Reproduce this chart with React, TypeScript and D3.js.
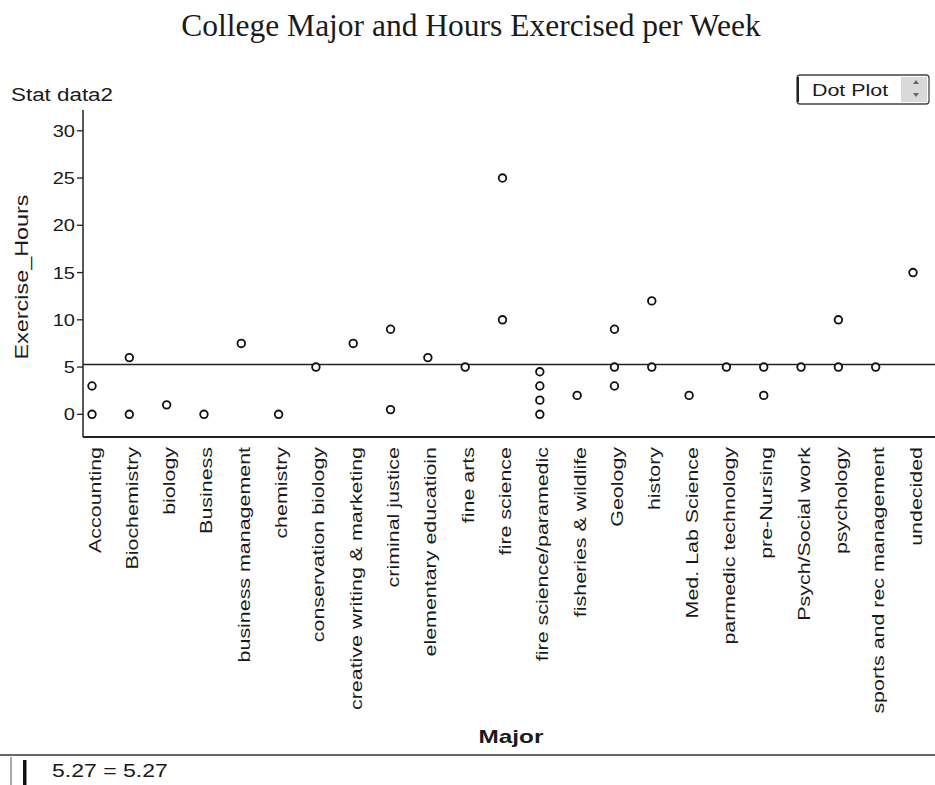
import React from "react";
import * as d3 from "d3";

const majors = [
  "Accounting",
  "Biochemistry",
  "biology",
  "Business",
  "business management",
  "chemistry",
  "conservation biology",
  "creative writing & marketing",
  "criminal justice",
  "elementary educatioin",
  "fine arts",
  "fire science",
  "fire science/paramedic",
  "fisheries & wildlife",
  "Geology",
  "history",
  "Med. Lab Science",
  "parmedic technology",
  "pre-Nursing",
  "Psych/Social work",
  "psychology",
  "sports and rec management",
  "undecided",
];

const exerciseHours: number[][] = [
  [0, 3],
  [0, 6],
  [1],
  [0],
  [7.5],
  [0],
  [5],
  [7.5],
  [0.5, 9],
  [6],
  [5],
  [10, 25],
  [0, 1.5, 3, 4.5],
  [2],
  [3, 5, 9],
  [5, 12],
  [2],
  [5],
  [2, 5],
  [5],
  [5, 10],
  [5],
  [15],
];

const yTicks = [0, 5, 10, 15, 20, 25, 30];
const yDomain = [-2.4, 32.2];

const title = "College Major and Hours Exercised per Week";
const collectionName = "Stat data2";
const yLabel = "Exercise_Hours";
const xLabel = "Major";
const plotType = "Dot Plot";

const SANS = "'Liberation Sans', Arial, Helvetica, sans-serif";
const SERIF = "'Liberation Serif', 'Times New Roman', serif";

export default function App() {
  const W = 935;
  const H = 785;
  const left = 83;
  const right = 935;
  const top = 110;
  const bottom = 437;

  const x = d3.scalePoint<string>().domain(majors).range([92, 913]);
  const y = d3.scaleLinear().domain(yDomain).range([bottom, top]);

  const points = majors.flatMap((m, i) =>
    exerciseHours[i].map((v, j) => ({ m, v, key: `${i}-${j}` }))
  );
  const allValues = exerciseHours.flat();
  const mean = d3.mean(allValues) ?? 0;
  const meanText = mean.toFixed(2);

  return (
    <svg
      width={W}
      height={H}
      style={{ position: "absolute", left: 0, top: 0, background: "#fff" }}
    >
      <rect x={0} y={0} width={W} height={H} fill="#fff" />
      {/* Title */}
      <text
        x={471}
        y={36}
        textAnchor="middle"
        fontFamily={SERIF}
        fontSize={31.5}
        fill="#1a1a1a"
      >
        {title}
      </text>

      {/* Collection name */}
      <text
        transform="translate(11,101) scale(1.28,1)"
        fontFamily={SANS}
        fontSize={17.5}
        fill="#1a1a1a"
      >
        {collectionName}
      </text>

      {/* Dot Plot menu */}
      <g>
        <rect x={797} y={75} width={132} height={29} rx={3} fill="#fff" stroke="#444" strokeWidth={1.3} />
        <line x1={798} y1={77} x2={798} y2={102} stroke="#222" strokeWidth={2} />
        <rect x={901} y={77} width={26} height={25} fill="#d9d9d9" />
        <path d="M913,84 l3,-4 l3,4 z" fill="#666" />
        <path d="M913,93 l3,4 l3,-4 z" fill="#666" />
        <text
          transform="translate(812,96) scale(1.26,1)"
          fontFamily={SANS}
          fontSize={17}
          fill="#1a1a1a"
        >
          {plotType}
        </text>
      </g>

      {/* Axes */}
      <line x1={left} y1={top} x2={left} y2={bottom} stroke="#222" strokeWidth={1.5} />
      <line x1={left} y1={bottom} x2={right} y2={bottom} stroke="#222" strokeWidth={1.8} />
      {yTicks.map((t) => (
        <g key={t}>
          <line x1={left - 6} x2={left} y1={y(t)} y2={y(t)} stroke="#222" strokeWidth={1.3} />
          <text
            transform={`translate(75,${y(t)}) scale(1.18,1)`}
            dy="0.36em"
            textAnchor="end"
            fontFamily={SANS}
            fontSize={17}
            fill="#1a1a1a"
          >
            {t}
          </text>
        </g>
      ))}

      {/* Y axis label */}
      <text
        transform="translate(22,277) rotate(-90) scale(1.3,1)"
        dy="0.35em"
        textAnchor="middle"
        fontFamily={SANS}
        fontSize={18}
        fill="#1a1a1a"
      >
        {yLabel}
      </text>

      {/* Mean line */}
      <line x1={left} x2={right} y1={y(mean)} y2={y(mean)} stroke="#222" strokeWidth={1.6} />

      {/* Dots */}
      {points.map((p) => (
        <circle
          key={p.key}
          cx={x(p.m)}
          cy={y(p.v)}
          r={3.8}
          fill="#fff"
          stroke="#111"
          strokeWidth={1.8}
        />
      ))}

      {/* X category labels */}
      {majors.map((m) => (
        <text
          key={m}
          transform={`translate(${x(m)},447) rotate(-90) scale(1.26,1)`}
          dy="0.5em"
          textAnchor="end"
          fontFamily={SANS}
          fontSize={17}
          fill="#1a1a1a"
        >
          {m}
        </text>
      ))}

      {/* X axis label */}
      <text
        transform="translate(511,743) scale(1.28,1)"
        textAnchor="middle"
        fontFamily={SANS}
        fontWeight="bold"
        fontSize={19}
        fill="#1a1a1a"
      >
        {xLabel}
      </text>

      {/* Bottom formula bar */}
      <line x1={0} x2={W} y1={755} y2={755} stroke="#333" strokeWidth={1.6} />
      <line x1={11} x2={11} y1={757} y2={H} stroke="#555" strokeWidth={1} />
      <rect x={23} y={760} width={3.5} height={25} fill="#111" />
      <text
        transform="translate(52,777) scale(1.28,1)"
        fontFamily={SANS}
        fontSize={18}
        fill="#1a1a1a"
      >
        {`${meanText} = ${meanText}`}
      </text>
    </svg>
  );
}
